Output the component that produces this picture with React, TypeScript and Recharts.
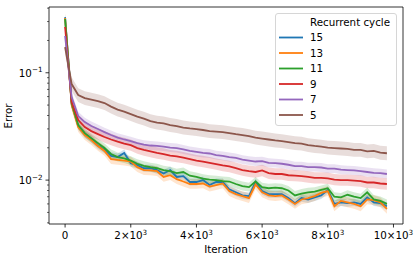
import { ComposedChart, Line, Area, XAxis, YAxis } from 'recharts';

const ITERATIONS = [
  0, 200, 400, 600, 800, 1000, 1200, 1400, 1600, 1800,
  2000, 2200, 2400, 2600, 2800, 3000, 3200, 3400, 3600, 3800,
  4000, 4200, 4400, 4600, 4800, 5000, 5200, 5400, 5600, 5800,
  6000, 6200, 6400, 6600, 6800, 7000, 7200, 7400, 7600, 7800,
  8000, 8200, 8400, 8600, 8800, 9000, 9200, 9400, 9600, 9800,
];

const ERR_15 = [
  0.330, 0.0511, 0.0319, 0.0268, 0.0241, 0.0210, 0.0191, 0.0168, 0.0164, 0.0179,
  0.0144, 0.0138, 0.0129, 0.0129, 0.0124, 0.0115, 0.0124, 0.0107, 0.0109, 0.0096,
  0.0096, 0.0100, 0.0090, 0.0096, 0.0096, 0.0082, 0.0077, 0.0072, 0.0071, 0.0096,
  0.0079, 0.0074, 0.0074, 0.0074, 0.0068, 0.0061, 0.0068, 0.0066, 0.0069, 0.0072,
  0.0081, 0.0060, 0.0062, 0.0061, 0.0062, 0.0060, 0.0069, 0.0062, 0.0061, 0.0057,
];
const ERR_13 = [
  0.324, 0.0500, 0.0312, 0.0263, 0.0236, 0.0208, 0.0187, 0.0157, 0.0154, 0.0152,
  0.0149, 0.0132, 0.0124, 0.0123, 0.0121, 0.0107, 0.0111, 0.0102, 0.0097, 0.0092,
  0.0092, 0.0093, 0.0087, 0.0090, 0.0093, 0.0079, 0.0074, 0.0071, 0.0068, 0.0091,
  0.0077, 0.0072, 0.0071, 0.0072, 0.0066, 0.0060, 0.0066, 0.0068, 0.0071, 0.0076,
  0.0079, 0.0057, 0.0064, 0.0062, 0.0060, 0.0057, 0.0066, 0.0065, 0.0062, 0.0054,
];
const ERR_11 = [
  0.317, 0.0522, 0.0326, 0.0274, 0.0246, 0.0221, 0.0199, 0.0175, 0.0164, 0.0159,
  0.0152, 0.0142, 0.0136, 0.0132, 0.0129, 0.0124, 0.0121, 0.0116, 0.0119, 0.0110,
  0.0107, 0.0103, 0.0101, 0.0100, 0.0098, 0.0097, 0.0092, 0.0088, 0.0086, 0.0097,
  0.0086, 0.0084, 0.0085, 0.0084, 0.0080, 0.0072, 0.0075, 0.0077, 0.0078, 0.0081,
  0.0084, 0.0070, 0.0069, 0.0073, 0.0070, 0.0068, 0.0077, 0.0066, 0.0064, 0.0060,
];
const ERR_9 = [
  0.267, 0.0533, 0.0362, 0.0312, 0.0286, 0.0268, 0.0252, 0.0239, 0.0228, 0.0219,
  0.0212, 0.0199, 0.0191, 0.0185, 0.0179, 0.0175, 0.0169, 0.0166, 0.0162, 0.0157,
  0.0152, 0.0149, 0.0145, 0.0141, 0.0137, 0.0134, 0.0129, 0.0124, 0.0121, 0.0119,
  0.0123, 0.0116, 0.0114, 0.0114, 0.0111, 0.0110, 0.0109, 0.0107, 0.0105, 0.0105,
  0.0104, 0.0101, 0.0100, 0.0100, 0.0099, 0.0098, 0.0095, 0.0095, 0.0093, 0.0092,
];
const ERR_7 = [
  0.220, 0.0594, 0.0395, 0.0347, 0.0319, 0.0299, 0.0280, 0.0263, 0.0249, 0.0239,
  0.0231, 0.0221, 0.0214, 0.0210, 0.0208, 0.0205, 0.0201, 0.0199, 0.0193, 0.0187,
  0.0183, 0.0179, 0.0177, 0.0171, 0.0168, 0.0164, 0.0161, 0.0155, 0.0152, 0.0149,
  0.0150, 0.0145, 0.0144, 0.0142, 0.0139, 0.0135, 0.0135, 0.0132, 0.0132, 0.0131,
  0.0128, 0.0128, 0.0125, 0.0124, 0.0123, 0.0121, 0.0119, 0.0117, 0.0116, 0.0114,
];
const ERR_5 = [
  0.1735, 0.0785, 0.0620, 0.0580, 0.0563, 0.0545, 0.0522, 0.0484, 0.0454, 0.0435,
  0.0412, 0.0391, 0.0374, 0.0355, 0.0343, 0.0337, 0.0326, 0.0319, 0.0309, 0.0303,
  0.0299, 0.0293, 0.0286, 0.0283, 0.0280, 0.0274, 0.0268, 0.0263, 0.0257, 0.0249,
  0.0244, 0.0239, 0.0234, 0.0231, 0.0226, 0.0221, 0.0219, 0.0212, 0.0208, 0.0205,
  0.0201, 0.0199, 0.0197, 0.0195, 0.0191, 0.0191, 0.0185, 0.0187, 0.0180, 0.0178,
];

const SERIES = [
  { name: '15', values: ERR_15, color: '#1f77b4', spread: 1.08 },
  { name: '13', values: ERR_13, color: '#ff7f0e', spread: 1.11 },
  { name: '11', values: ERR_11, color: '#2ca02c', spread: 1.1 },
  { name: '9', values: ERR_9, color: '#d62728', spread: 1.13 },
  { name: '7', values: ERR_7, color: '#9467bd', spread: 1.1 },
  { name: '5', values: ERR_5, color: '#8c564b', spread: 1.16 },
];

const X_TICKS = [0, 2000, 4000, 6000, 8000, 10000];
const Y_MAJOR = [0.01, 0.1];
const Y_TICKS = [
  0.004, 0.005, 0.006, 0.007, 0.008, 0.009, 0.01,
  0.02, 0.03, 0.04, 0.05, 0.06, 0.07, 0.08, 0.09, 0.1,
  0.2, 0.3, 0.4,
];

const FONT = 'DejaVu Sans, sans-serif';
const FS = 10.3;

const data = ITERATIONS.map((it, i) => {
  const row: Record<string, any> = { it };
  SERIES.forEach((s) => {
    const v = s.values[i];
    row['s' + s.name] = v;
    row['b' + s.name] = [v / s.spread, v * s.spread];
  });
  return row;
});

function XTick({ x, y, payload }: any) {
  const v = payload.value;
  return (
    <g>
      <line x1={x} x2={x} y1={y} y2={y + 3.5} stroke="#000" strokeWidth={0.8} />
      <text x={x} y={y + 15} textAnchor="middle" fontSize={FS} fontFamily={FONT} fill="#000">
        {v === 0 ? (
          '0'
        ) : (
          <>
            <tspan>{`${v / 1000}×10`}</tspan>
            <tspan dy={-4} fontSize={7.2}>3</tspan>
          </>
        )}
      </text>
    </g>
  );
}

function YTick({ x, y, payload }: any) {
  const v = payload.value;
  const major = Y_MAJOR.some((m) => Math.abs(m - v) < 1e-9);
  const exp = Math.round(Math.log10(v));
  return (
    <g>
      <line x1={x - (major ? 3.5 : 2)} x2={x} y1={y} y2={y} stroke="#000" strokeWidth={major ? 0.8 : 0.6} />
      {major && (
        <text x={x - 6.5} y={y + 4} textAnchor="end" fontSize={FS} fontFamily={FONT} fill="#000">
          <tspan>10</tspan>
          <tspan dy={-4.5} fontSize={7.2}>{`−${-exp}`}</tspan>
        </text>
      )}
    </g>
  );
}

function LegendBox() {
  return (
    <div
      style={{
        position: 'absolute',
        left: 275,
        top: 13,
        width: 122,
        height: 113,
        boxSizing: 'border-box',
        border: '1px solid #d6d6d6',
        borderRadius: 3,
        background: 'rgba(255,255,255,0.8)',
      }}
    >
      <svg width={122} height={113} style={{ position: 'absolute', left: -1, top: -1 }}>
        <text x={35} y={12.5} fontSize={FS} fontFamily={FONT} fill="#000">
          Recurrent cycle
        </text>
        {SERIES.map((s, i) => {
          const cy = 24.5 + i * 15.5;
          return (
            <g key={s.name}>
              <line x1={4} x2={28} y1={cy} y2={cy} stroke={s.color} strokeWidth={1.8} />
              <text x={35} y={cy + 3.7} fontSize={FS} fontFamily={FONT} fill="#000">
                {s.name}
              </text>
            </g>
          );
        })}
      </svg>
    </div>
  );
}

export default function App() {
  return (
    <div style={{ position: 'fixed', left: 0, top: 0, width: 415, height: 256, background: '#fff' }}>
      <ComposedChart
        width={415}
        height={256}
        data={data}
        margin={{ top: 6, right: 11, bottom: 31, left: 48 }}
      >
        <XAxis
          dataKey="it"
          type="number"
          domain={[-490, 10290]}
          ticks={X_TICKS}
          interval={0}
          allowDataOverflow
          height={1}
          tickSize={0}
          tickMargin={0}
          tickLine={false}
          axisLine={{ stroke: '#000', strokeWidth: 0.8 }}
          tick={<XTick />}
          label={() => (
            <text x={226} y={253} textAnchor="middle" fontSize={FS} fontFamily={FONT} fill="#000">
              Iteration
            </text>
          )}
        />
        <XAxis
          xAxisId="top"
          orientation="top"
          dataKey="it"
          type="number"
          domain={[-490, 10290]}
          height={1}
          tick={false}
          tickLine={false}
          axisLine={{ stroke: '#000', strokeWidth: 0.8 }}
        />
        <YAxis
          scale="log"
          type="number"
          domain={[0.0039, 0.41]}
          ticks={Y_TICKS}
          interval={0}
          allowDataOverflow
          width={1}
          tickSize={0}
          tickMargin={0}
          tickLine={false}
          axisLine={{ stroke: '#000', strokeWidth: 0.8 }}
          tick={<YTick />}
          label={() => (
            <text
              x={12}
              y={116}
              transform="rotate(-90 12 116)"
              textAnchor="middle"
              fontSize={FS}
              fontFamily={FONT}
              fill="#000"
            >
              Error
            </text>
          )}
        />
        <YAxis
          yAxisId="right"
          orientation="right"
          type="number"
          domain={[0, 1]}
          width={1}
          tick={false}
          tickLine={false}
          axisLine={{ stroke: '#000', strokeWidth: 0.8 }}
        />
        {SERIES.map((s) => [
          <Line
            key={'l' + s.name}
            type="linear"
            dataKey={'s' + s.name}
            stroke={s.color}
            strokeWidth={1.8}
            dot={false}
            activeDot={false}
            isAnimationActive={false}
          />,
          <Area
            key={'a' + s.name}
            type="linear"
            dataKey={'b' + s.name}
            stroke="none"
            fill={s.color}
            fillOpacity={0.2}
            dot={false}
            activeDot={false}
            isAnimationActive={false}
          />,
        ])}
      </ComposedChart>
      <LegendBox />
    </div>
  );
}
